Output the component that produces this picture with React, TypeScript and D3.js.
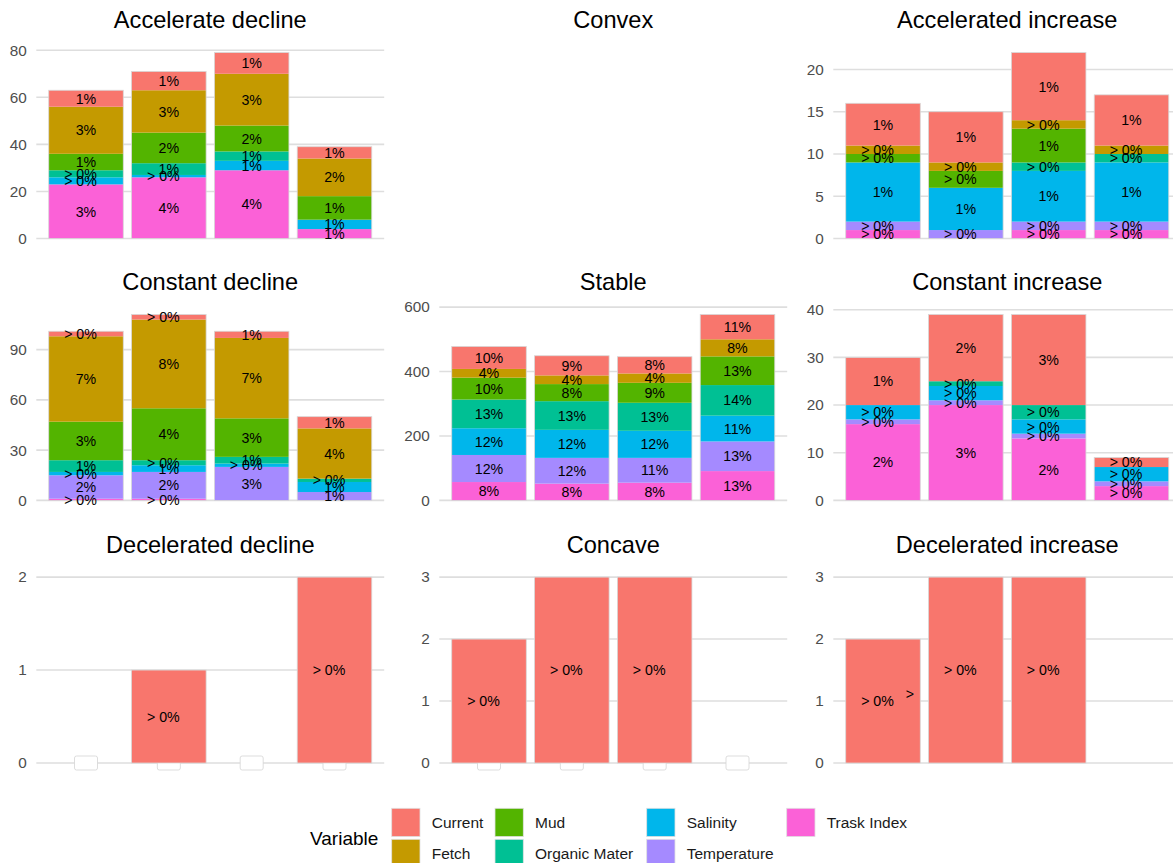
import React from "react";
import * as d3 from "d3";

// ---------- data ----------
const variables = ["Current", "Fetch", "Mud", "Organic Mater", "Salinity", "Temperature", "Trask Index"];
const variableColors = ["#F8766D", "#C49A00", "#53B400", "#00C094", "#00B6EB", "#A58AFF", "#FB61D7"];
const periods = ["P1", "P2", "P3", "P4"];

// rows follow `variables`, columns follow `periods`
const accelerateDeclineValues = [
  [7, 8, 9, 5],
  [20, 18, 22, 16],
  [7, 13, 11, 10],
  [3, 5, 4, 0],
  [3, 1, 4, 4],
  [0, 0, 0, 0],
  [23, 26, 29, 4],
];
const accelerateDeclineLabels = [
  ["1%", "1%", "1%", "1%"],
  ["3%", "3%", "3%", "2%"],
  ["1%", "2%", "2%", "1%"],
  ["> 0%", "1%", "1%", ""],
  ["> 0%", "> 0%", "1%", "1%"],
  ["", "", "", ""],
  ["3%", "4%", "4%", "1%"],
];
const acceleratedIncreaseValues = [
  [5, 6, 8, 6],
  [1, 1, 1, 1],
  [1, 2, 4, 0],
  [0, 0, 1, 1],
  [7, 5, 6, 7],
  [1, 1, 1, 1],
  [1, 0, 1, 1],
];
const acceleratedIncreaseLabels = [
  ["1%", "1%", "1%", "1%"],
  ["> 0%", "> 0%", "> 0%", "> 0%"],
  ["> 0%", "> 0%", "1%", ""],
  ["", "", "> 0%", "> 0%"],
  ["1%", "1%", "1%", "1%"],
  ["> 0%", "> 0%", "> 0%", "> 0%"],
  ["> 0%", "", "> 0%", "> 0%"],
];
const constantDeclineValues = [
  [3, 3, 4, 7],
  [51, 53, 48, 30],
  [23, 31, 23, 0],
  [7, 3, 4, 2],
  [2, 4, 2, 6],
  [14, 16, 20, 5],
  [1, 1, 0, 0],
];
const constantDeclineLabels = [
  ["> 0%", "> 0%", "1%", "1%"],
  ["7%", "8%", "7%", "4%"],
  ["3%", "4%", "3%", ""],
  ["1%", "> 0%", "1%", "> 0%"],
  ["> 0%", "1%", "> 0%", "1%"],
  ["2%", "2%", "3%", "1%"],
  ["> 0%", "> 0%", "", ""],
];
const stableValues = [
  [70, 61, 52, 77],
  [27, 27, 29, 53],
  [68, 53, 62, 89],
  [89, 89, 87, 95],
  [83, 87, 84, 80],
  [84, 80, 77, 92],
  [57, 52, 55, 91],
];
const stableLabels = [
  ["10%", "9%", "8%", "11%"],
  ["4%", "4%", "4%", "8%"],
  ["10%", "8%", "9%", "13%"],
  ["13%", "13%", "13%", "14%"],
  ["12%", "12%", "12%", "11%"],
  ["12%", "12%", "11%", "13%"],
  ["8%", "8%", "8%", "13%"],
];
const constantIncreaseValues = [
  [10, 14, 19, 2],
  [0, 0, 0, 0],
  [0, 0, 0, 0],
  [0, 1, 3, 0],
  [3, 3, 3, 3],
  [1, 1, 1, 1],
  [16, 20, 13, 3],
];
const constantIncreaseLabels = [
  ["1%", "2%", "3%", "> 0%"],
  ["", "", "", ""],
  ["", "", "", ""],
  ["", "> 0%", "> 0%", ""],
  ["> 0%", "> 0%", "> 0%", "> 0%"],
  ["> 0%", "> 0%", "> 0%", "> 0%"],
  ["2%", "3%", "2%", "> 0%"],
];
const zeroRow = [0, 0, 0, 0];
const blankRow = ["", "", "", ""];
const deceleratedDeclineCurrent = [0, 1, 0, 2];
const deceleratedDeclineCurrentLabels = ["", "> 0%", "", "> 0%"];
const concaveCurrent = [2, 3, 3, 0];
const concaveCurrentLabels = ["> 0%", "> 0%", "> 0%", ""];
const deceleratedIncreaseCurrent = [2, 3, 3, 0];
const deceleratedIncreaseCurrentLabels = ["> 0%", "> 0%", "> 0%", ""];

const panelTitles = [
  "Accelerate decline", "Convex", "Accelerated increase",
  "Constant decline", "Stable", "Constant increase",
  "Decelerated decline", "Concave", "Decelerated increase",
];
const panelTicks = [
  [0, 20, 40, 60, 80], [], [0, 5, 10, 15, 20],
  [0, 30, 60, 90], [0, 200, 400, 600], [0, 10, 20, 30, 40],
  [0, 1, 2], [0, 1, 2, 3], [0, 1, 2, 3],
];
// panels whose empty label boxes show at the baseline
const emptyBoxPanels = ["Decelerated decline", "Concave"];
// stray clipped label glyph
const strayGlyphs = [{ panel: "Decelerated increase", bar: 0, value: 1, text: ">" }];

const onlyCurrent = (v: number[]) => [v, zeroRow, zeroRow, zeroRow, zeroRow, zeroRow, zeroRow];
const onlyCurrentLabels = (l: string[]) => [l, blankRow, blankRow, blankRow, blankRow, blankRow, blankRow];

const panelValues = [
  accelerateDeclineValues, null, acceleratedIncreaseValues,
  constantDeclineValues, stableValues, constantIncreaseValues,
  onlyCurrent(deceleratedDeclineCurrent), onlyCurrent(concaveCurrent), onlyCurrent(deceleratedIncreaseCurrent),
];
const panelLabels = [
  accelerateDeclineLabels, null, acceleratedIncreaseLabels,
  constantDeclineLabels, stableLabels, constantIncreaseLabels,
  onlyCurrentLabels(deceleratedDeclineCurrentLabels), onlyCurrentLabels(concaveCurrentLabels),
  onlyCurrentLabels(deceleratedIncreaseCurrentLabels),
];

// ---------- layout ----------
const W = 1173;
const H = 863;
const FONT = "'Liberation Sans', Arial, Helvetica, sans-serif";
const colLefts = [36.3, 439.3, 833.3];
const rowTops = [43.3, 305.2, 567.8];
const panelW = 347.9;
const panelH = 204.5;

function Panel({ idx }: { idx: number }) {
  const col = idx % 3;
  const row = Math.floor(idx / 3);
  const left = colLefts[col];
  const top = rowTops[row];
  const title = panelTitles[idx];
  const values = panelValues[idx];
  const labels = panelLabels[idx];
  const ticks = panelTicks[idx];

  const titleEl = (
    <text x={left + panelW / 2} y={top - 15} textAnchor="middle" fontSize={23.6} fill="#000" fontFamily={FONT}>
      {title}
    </text>
  );
  if (!values || !labels) return <g>{titleEl}</g>;

  const x = d3.scaleBand<string>().domain(periods).range([left, left + panelW]).paddingInner(0.1).paddingOuter(0.15);
  const totals = periods.map((_, j) => d3.sum(values, (r) => r[j]));
  const maxT = d3.max(totals) || 1;
  const y = d3.scaleLinear().domain([-0.05 * maxT, 1.05 * maxT]).range([top + panelH, top]);

  // stacking: last variable at the bottom
  const stackOrder = d3.range(variables.length).reverse();
  const segs: { v: number; j: number; y0: number; y1: number; label: string }[] = [];
  periods.forEach((_, j) => {
    let acc = 0;
    stackOrder.forEach((v) => {
      const val = values[v][j];
      if (val > 0) {
        segs.push({ v, j, y0: acc, y1: acc + val, label: labels[v][j] });
      }
      acc += val;
    });
  });

  const bw = x.bandwidth();
  return (
    <g>
      {titleEl}
      {ticks.map((t) => (
        <g key={"t" + t}>
          <line x1={left} x2={left + panelW} y1={y(t)} y2={y(t)} stroke="#DEDEDE" strokeWidth={1.6} />
          <text x={left - 9.5} y={y(t)} dy="0.35em" textAnchor="end" fontSize={15.3} fill="#4D4D4D" fontFamily={FONT}>
            {t}
          </text>
        </g>
      ))}
      {emptyBoxPanels.includes(title) &&
        periods.map((p) => (
          <rect key={"eb" + p} x={(x(p) as number) + bw / 2 - 11.5} y={y(0) - 7} width={23} height={14}
            rx={2} fill="#fff" stroke="#D4D4D4" strokeWidth={0.8} />
        ))}
      {segs.map((s, i) => (
        <rect key={"s" + i} x={x(periods[s.j])} width={bw} y={y(s.y1)} height={y(s.y0) - y(s.y1)}
          fill={variableColors[s.v]} />
      ))}
      {periods.map((p, j) =>
        totals[j] > 0 ? (
          <rect key={"o" + p} x={x(p)} width={bw} y={y(totals[j])} height={y(0) - y(totals[j])}
            fill="none" stroke="#D8D8D8" strokeWidth={0.8} />
        ) : null
      )}
      {segs.map((s, i) =>
        s.label ? (
          <text key={"l" + i} x={(x(periods[s.j]) as number) + bw / 2 + (s.label.startsWith(">") ? -5.5 : 0)}
            y={y((s.y0 + s.y1) / 2)} dy="0.36em" textAnchor="middle" fontSize={14.2} fill="#000" fontFamily={FONT}>
            {s.label}
          </text>
        ) : null
      )}
      {strayGlyphs
        .filter((g) => g.panel === title)
        .map((g, i) => (
          <text key={"g" + i} x={(x(periods[g.bar]) as number) + bw / 2 + 27} y={y(g.value) - 7} dy="0.36em"
            textAnchor="middle" fontSize={14.2} fill="#000" fontFamily={FONT}>
            {g.text}
          </text>
        ))}
    </g>
  );
}

function Legend() {
  const keyX = [391.7, 495, 646.7, 786.7];
  const keyY = [808.3, 839.3];
  const keySize = 28.3;
  return (
    <g fontFamily={FONT}>
      <text x={310} y={838.3} dy="0.35em" fontSize={19} fill="#000">Variable</text>
      {variables.map((v, i) => {
        const c = Math.floor(i / 2);
        const r = i % 2;
        return (
          <g key={v}>
            <rect x={keyX[c]} y={keyY[r]} width={keySize} height={keySize} fill={variableColors[i]}
              stroke="#E0E0E0" strokeWidth={0.8} />
            <text x={keyX[c] + 40} y={keyY[r] + keySize / 2} dy="0.35em" fontSize={15.5} fill="#1A1A1A">
              {v}
            </text>
          </g>
        );
      })}
    </g>
  );
}

export default function App() {
  return (
    <svg width={W} height={H} viewBox={`0 0 ${W} ${H}`}
      style={{ position: "absolute", left: 0, top: 0, display: "block", background: "#fff" }}>
      <rect x={0} y={0} width={W} height={H} fill="#fff" />
      {panelTitles.map((_, i) => (
        <Panel key={i} idx={i} />
      ))}
      <Legend />
    </svg>
  );
}
